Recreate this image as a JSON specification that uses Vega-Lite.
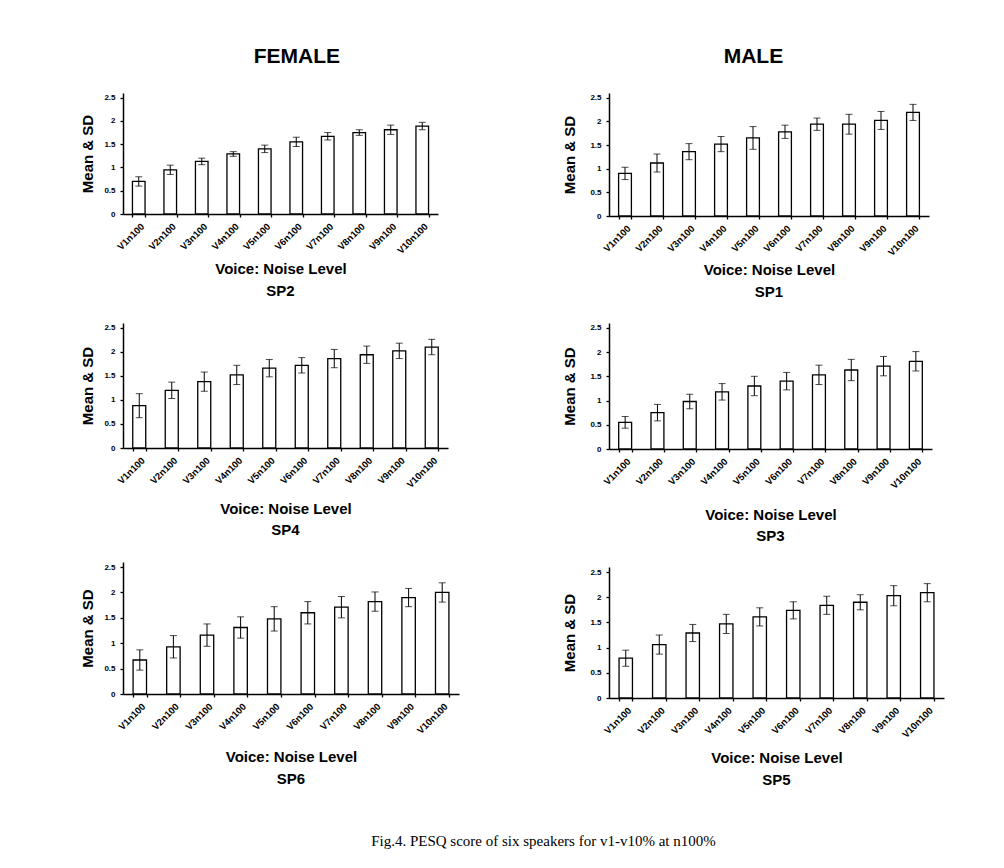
{
  "$schema": "https://vega.github.io/schema/vega-lite/v6.json",
  "background": "white",
  "padding": {"left": 80, "top": 46, "right": 5, "bottom": 5},
  "datasets": {
    "pesq": [
      {"speaker": "SP2", "voice": "V1n100", "mean": 0.70, "sd": 0.10},
      {"speaker": "SP2", "voice": "V2n100", "mean": 0.95, "sd": 0.10},
      {"speaker": "SP2", "voice": "V3n100", "mean": 1.13, "sd": 0.07},
      {"speaker": "SP2", "voice": "V4n100", "mean": 1.29, "sd": 0.05},
      {"speaker": "SP2", "voice": "V5n100", "mean": 1.40, "sd": 0.08},
      {"speaker": "SP2", "voice": "V6n100", "mean": 1.55, "sd": 0.10},
      {"speaker": "SP2", "voice": "V7n100", "mean": 1.67, "sd": 0.08},
      {"speaker": "SP2", "voice": "V8n100", "mean": 1.75, "sd": 0.06},
      {"speaker": "SP2", "voice": "V9n100", "mean": 1.81, "sd": 0.10},
      {"speaker": "SP2", "voice": "V10n100", "mean": 1.89, "sd": 0.08},
      {"speaker": "SP1", "voice": "V1n100", "mean": 0.90, "sd": 0.13},
      {"speaker": "SP1", "voice": "V2n100", "mean": 1.12, "sd": 0.19},
      {"speaker": "SP1", "voice": "V3n100", "mean": 1.36, "sd": 0.17},
      {"speaker": "SP1", "voice": "V4n100", "mean": 1.52, "sd": 0.16},
      {"speaker": "SP1", "voice": "V5n100", "mean": 1.65, "sd": 0.24},
      {"speaker": "SP1", "voice": "V6n100", "mean": 1.78, "sd": 0.14},
      {"speaker": "SP1", "voice": "V7n100", "mean": 1.94, "sd": 0.13},
      {"speaker": "SP1", "voice": "V8n100", "mean": 1.94, "sd": 0.21},
      {"speaker": "SP1", "voice": "V9n100", "mean": 2.02, "sd": 0.19},
      {"speaker": "SP1", "voice": "V10n100", "mean": 2.19, "sd": 0.17},
      {"speaker": "SP4", "voice": "V1n100", "mean": 0.88, "sd": 0.25},
      {"speaker": "SP4", "voice": "V2n100", "mean": 1.20, "sd": 0.17},
      {"speaker": "SP4", "voice": "V3n100", "mean": 1.38, "sd": 0.20},
      {"speaker": "SP4", "voice": "V4n100", "mean": 1.52, "sd": 0.20},
      {"speaker": "SP4", "voice": "V5n100", "mean": 1.66, "sd": 0.18},
      {"speaker": "SP4", "voice": "V6n100", "mean": 1.72, "sd": 0.16},
      {"speaker": "SP4", "voice": "V7n100", "mean": 1.86, "sd": 0.19},
      {"speaker": "SP4", "voice": "V8n100", "mean": 1.94, "sd": 0.18},
      {"speaker": "SP4", "voice": "V9n100", "mean": 2.02, "sd": 0.16},
      {"speaker": "SP4", "voice": "V10n100", "mean": 2.10, "sd": 0.16},
      {"speaker": "SP3", "voice": "V1n100", "mean": 0.55, "sd": 0.12},
      {"speaker": "SP3", "voice": "V2n100", "mean": 0.75, "sd": 0.17},
      {"speaker": "SP3", "voice": "V3n100", "mean": 0.98, "sd": 0.15},
      {"speaker": "SP3", "voice": "V4n100", "mean": 1.18, "sd": 0.17},
      {"speaker": "SP3", "voice": "V5n100", "mean": 1.30, "sd": 0.20},
      {"speaker": "SP3", "voice": "V6n100", "mean": 1.40, "sd": 0.18},
      {"speaker": "SP3", "voice": "V7n100", "mean": 1.53, "sd": 0.20},
      {"speaker": "SP3", "voice": "V8n100", "mean": 1.63, "sd": 0.22},
      {"speaker": "SP3", "voice": "V9n100", "mean": 1.71, "sd": 0.20},
      {"speaker": "SP3", "voice": "V10n100", "mean": 1.81, "sd": 0.20},
      {"speaker": "SP6", "voice": "V1n100", "mean": 0.67, "sd": 0.20},
      {"speaker": "SP6", "voice": "V2n100", "mean": 0.93, "sd": 0.22},
      {"speaker": "SP6", "voice": "V3n100", "mean": 1.16, "sd": 0.22},
      {"speaker": "SP6", "voice": "V4n100", "mean": 1.31, "sd": 0.21},
      {"speaker": "SP6", "voice": "V5n100", "mean": 1.48, "sd": 0.24},
      {"speaker": "SP6", "voice": "V6n100", "mean": 1.60, "sd": 0.22},
      {"speaker": "SP6", "voice": "V7n100", "mean": 1.71, "sd": 0.21},
      {"speaker": "SP6", "voice": "V8n100", "mean": 1.82, "sd": 0.19},
      {"speaker": "SP6", "voice": "V9n100", "mean": 1.90, "sd": 0.18},
      {"speaker": "SP6", "voice": "V10n100", "mean": 2.00, "sd": 0.19},
      {"speaker": "SP5", "voice": "V1n100", "mean": 0.79, "sd": 0.16},
      {"speaker": "SP5", "voice": "V2n100", "mean": 1.06, "sd": 0.19},
      {"speaker": "SP5", "voice": "V3n100", "mean": 1.29, "sd": 0.17},
      {"speaker": "SP5", "voice": "V4n100", "mean": 1.47, "sd": 0.19},
      {"speaker": "SP5", "voice": "V5n100", "mean": 1.61, "sd": 0.18},
      {"speaker": "SP5", "voice": "V6n100", "mean": 1.74, "sd": 0.17},
      {"speaker": "SP5", "voice": "V7n100", "mean": 1.84, "sd": 0.18},
      {"speaker": "SP5", "voice": "V8n100", "mean": 1.90, "sd": 0.15},
      {"speaker": "SP5", "voice": "V9n100", "mean": 2.03, "sd": 0.20},
      {"speaker": "SP5", "voice": "V10n100", "mean": 2.09, "sd": 0.18}
    ]
  },
  "title": {
    "text": "Fig.4. PESQ score of six speakers for v1-v10% at n100%",
    "orient": "bottom",
    "anchor": "middle",
    "font": "Liberation Serif",
    "fontSize": 15,
    "fontWeight": "normal",
    "color": "black",
    "offset": 46,
    "dx": 31
  },
  "spacing": 103,
  "hconcat": [
    {
      "title": {"text": "FEMALE", "fontSize": 21, "offset": 26, "dx": 27},
      "spacing": 24,
      "vconcat": [
        {
          "width": 315, "height": 121,
          "title": {"text": "SP2", "orient": "bottom", "offset": 7},
          "data": {"name": "pesq"},
          "transform": [{"filter": "datum.speaker === 'SP2'"}],
          "encoding": {"x": {"field": "voice", "type": "nominal", "sort": null, "title": "Voice: Noise Level", "axis": {"titlePadding": 7}}},
          "layer": [
            {"mark": {"type": "bar", "fill": "white", "stroke": "black", "strokeWidth": 1.3},
             "encoding": {"y": {"field": "mean", "type": "quantitative", "title": "Mean & SD", "scale": {"domain": [0, 2.5]}, "axis": {"titlePadding": 8}}}},
            {"mark": {"type": "errorbar", "ticks": true, "color": "black"},
             "encoding": {"y": {"field": "mean", "type": "quantitative", "title": "Mean & SD"}, "yError": {"field": "sd"}}}
          ]
        },
        {
          "width": 325, "height": 125,
          "title": {"text": "SP4", "orient": "bottom", "offset": 6},
          "data": {"name": "pesq"},
          "transform": [{"filter": "datum.speaker === 'SP4'"}],
          "encoding": {"x": {"field": "voice", "type": "nominal", "sort": null, "title": "Voice: Noise Level", "axis": {"titlePadding": 13}}},
          "layer": [
            {"mark": {"type": "bar", "fill": "white", "stroke": "black", "strokeWidth": 1.3},
             "encoding": {"y": {"field": "mean", "type": "quantitative", "title": "Mean & SD", "scale": {"domain": [0, 2.5]}, "axis": {"titlePadding": 8}}}},
            {"mark": {"type": "errorbar", "ticks": true, "color": "black"},
             "encoding": {"y": {"field": "mean", "type": "quantitative", "title": "Mean & SD"}, "yError": {"field": "sd"}}}
          ]
        },
        {
          "width": 336, "height": 132,
          "title": {"text": "SP6", "orient": "bottom", "offset": 7},
          "data": {"name": "pesq"},
          "transform": [{"filter": "datum.speaker === 'SP6'"}],
          "encoding": {"x": {"field": "voice", "type": "nominal", "sort": null, "title": "Voice: Noise Level", "axis": {"titlePadding": 15}}},
          "layer": [
            {"mark": {"type": "bar", "fill": "white", "stroke": "black", "strokeWidth": 1.3},
             "encoding": {"y": {"field": "mean", "type": "quantitative", "title": "Mean & SD", "scale": {"domain": [0, 2.5]}, "axis": {"titlePadding": 8}}}},
            {"mark": {"type": "errorbar", "ticks": true, "color": "black"},
             "encoding": {"y": {"field": "mean", "type": "quantitative", "title": "Mean & SD"}, "yError": {"field": "sd"}}}
          ]
        }
      ]
    },
    {
      "title": {"text": "MALE", "fontSize": 21, "offset": 26},
      "spacing": 23,
      "vconcat": [
        {
          "width": 320, "height": 123,
          "title": {"text": "SP1", "orient": "bottom", "offset": 7},
          "data": {"name": "pesq"},
          "transform": [{"filter": "datum.speaker === 'SP1'"}],
          "encoding": {"x": {"field": "voice", "type": "nominal", "sort": null, "title": "Voice: Noise Level", "axis": {"titlePadding": 6}}},
          "layer": [
            {"mark": {"type": "bar", "fill": "white", "stroke": "black", "strokeWidth": 1.3},
             "encoding": {"y": {"field": "mean", "type": "quantitative", "title": "Mean & SD", "scale": {"domain": [0, 2.5]}, "axis": {"titlePadding": 12}}}},
            {"mark": {"type": "errorbar", "ticks": true, "color": "black"},
             "encoding": {"y": {"field": "mean", "type": "quantitative", "title": "Mean & SD"}, "yError": {"field": "sd"}}}
          ]
        },
        {
          "width": 323, "height": 126,
          "title": {"text": "SP3", "orient": "bottom", "offset": 6},
          "data": {"name": "pesq"},
          "transform": [{"filter": "datum.speaker === 'SP3'"}],
          "encoding": {"x": {"field": "voice", "type": "nominal", "sort": null, "title": "Voice: Noise Level", "axis": {"titlePadding": 18}}},
          "layer": [
            {"mark": {"type": "bar", "fill": "white", "stroke": "black", "strokeWidth": 1.3},
             "encoding": {"y": {"field": "mean", "type": "quantitative", "title": "Mean & SD", "scale": {"domain": [0, 2.5]}, "axis": {"titlePadding": 12}}}},
            {"mark": {"type": "errorbar", "ticks": true, "color": "black"},
             "encoding": {"y": {"field": "mean", "type": "quantitative", "title": "Mean & SD"}, "yError": {"field": "sd"}}}
          ]
        },
        {
          "width": 335, "height": 131,
          "title": {"text": "SP5", "orient": "bottom", "offset": 7},
          "data": {"name": "pesq"},
          "transform": [{"filter": "datum.speaker === 'SP5'"}],
          "encoding": {"x": {"field": "voice", "type": "nominal", "sort": null, "title": "Voice: Noise Level", "axis": {"titlePadding": 12}}},
          "layer": [
            {"mark": {"type": "bar", "fill": "white", "stroke": "black", "strokeWidth": 1.3},
             "encoding": {"y": {"field": "mean", "type": "quantitative", "title": "Mean & SD", "scale": {"domain": [0, 2.5]}, "axis": {"titlePadding": 12}}}},
            {"mark": {"type": "errorbar", "ticks": true, "color": "black"},
             "encoding": {"y": {"field": "mean", "type": "quantitative", "title": "Mean & SD"}, "yError": {"field": "sd"}}}
          ]
        }
      ]
    }
  ],
  "config": {
    "font": "Liberation Sans",
    "view": {"stroke": null},
    "scale": {"bandPaddingInner": 0.6, "bandPaddingOuter": 0.3},
    "errorbar": {"ticks": {"size": 7}},
    "title": {"font": "Liberation Sans", "fontSize": 15, "fontWeight": "bold", "color": "black", "anchor": "middle"},
    "axis": {
      "grid": false,
      "domainColor": "black",
      "domainWidth": 1.5,
      "tickColor": "black",
      "tickWidth": 1.3,
      "labelColor": "black",
      "titleColor": "black",
      "labelFont": "Liberation Sans",
      "labelFontWeight": "bold",
      "titleFont": "Liberation Sans",
      "titleFontWeight": "bold",
      "tickSize": 3
    },
    "axisY": {
      "values": [0, 0.5, 1, 1.5, 2, 2.5],
      "format": "~g",
      "labelFontSize": 8,
      "titleFontSize": 15,
      "labelPadding": 5
    },
    "axisX": {
      "labelAngle": -45,
      "labelFontSize": 9.5,
      "labelPadding": 4,
      "tickBand": "extent",
      "titleFontSize": 15
    }
  }
}
